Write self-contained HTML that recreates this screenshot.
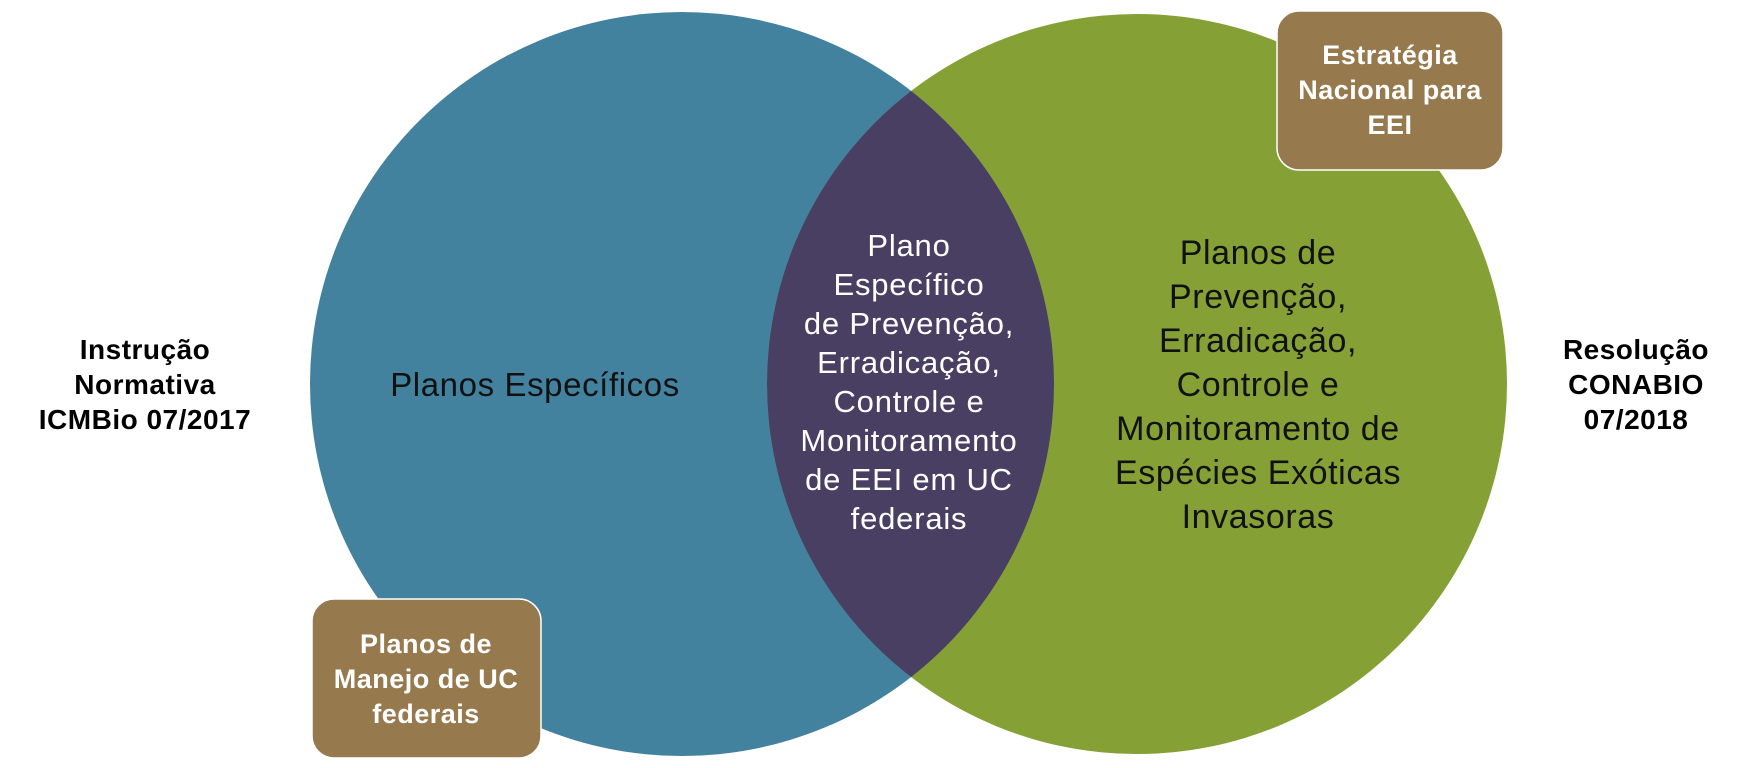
<!DOCTYPE html>
<html><head><meta charset="utf-8"><style>
html,body{margin:0;padding:0;background:#fff;width:1748px;height:768px;overflow:hidden}
svg{display:block}
text{font-family:"Liberation Sans",sans-serif}
</style></head><body>
<svg width="1748" height="768" viewBox="0 0 1748 768" xmlns="http://www.w3.org/2000/svg">
<defs><clipPath id="c"><circle cx="1137" cy="384" r="370"/></clipPath></defs>
<circle cx="682" cy="384" r="372" fill="#43829F"/>
<circle cx="1137" cy="384" r="370" fill="#85A035"/>
<circle cx="682" cy="384" r="372" fill="#483F62" clip-path="url(#c)"/>
<rect x="1277" y="11" width="226" height="159" rx="22" fill="#967A4D" stroke="#fff" stroke-width="1.5"/>
<rect x="312" y="599" width="229" height="159" rx="22" fill="#967A4D" stroke="#fff" stroke-width="1.5"/>
<g font-size="27" font-weight="bold" text-anchor="middle" fill="#fff" letter-spacing="0.5">
<text x="1390" y="64">Estratégia</text>
<text x="1390" y="99">Nacional para</text>
<text x="1390" y="134">EEI</text>
<text x="426" y="653">Planos de</text>
<text x="426" y="688">Manejo de UC</text>
<text x="426" y="723">federais</text>
</g>
<g font-size="28" font-weight="bold" text-anchor="middle" fill="#000" letter-spacing="0.5">
<text x="145" y="359">Instrução</text>
<text x="145" y="394">Normativa</text>
<text x="145" y="429">ICMBio 07/2017</text>
<text x="1636" y="359">Resolução</text>
<text x="1636" y="394">CONABIO</text>
<text x="1636" y="429">07/2018</text>
</g>
<text x="535" y="396" font-size="33" letter-spacing="0.6" text-anchor="middle" fill="#111">Planos Específicos</text>
<g font-size="31" letter-spacing="0.8" text-anchor="middle" fill="#fff">
<text x="909" y="256">Plano</text>
<text x="909" y="295">Específico</text>
<text x="909" y="334">de Prevenção,</text>
<text x="909" y="373">Erradicação,</text>
<text x="909" y="412">Controle e</text>
<text x="909" y="451">Monitoramento</text>
<text x="909" y="490">de EEI em UC</text>
<text x="909" y="529">federais</text>
</g>
<g font-size="34" letter-spacing="0.6" text-anchor="middle" fill="#111">
<text x="1258" y="264">Planos de</text>
<text x="1258" y="308">Prevenção,</text>
<text x="1258" y="352">Erradicação,</text>
<text x="1258" y="396">Controle e</text>
<text x="1258" y="440">Monitoramento de</text>
<text x="1258" y="484">Espécies Exóticas</text>
<text x="1258" y="528">Invasoras</text>
</g>
</svg>
</body></html>
